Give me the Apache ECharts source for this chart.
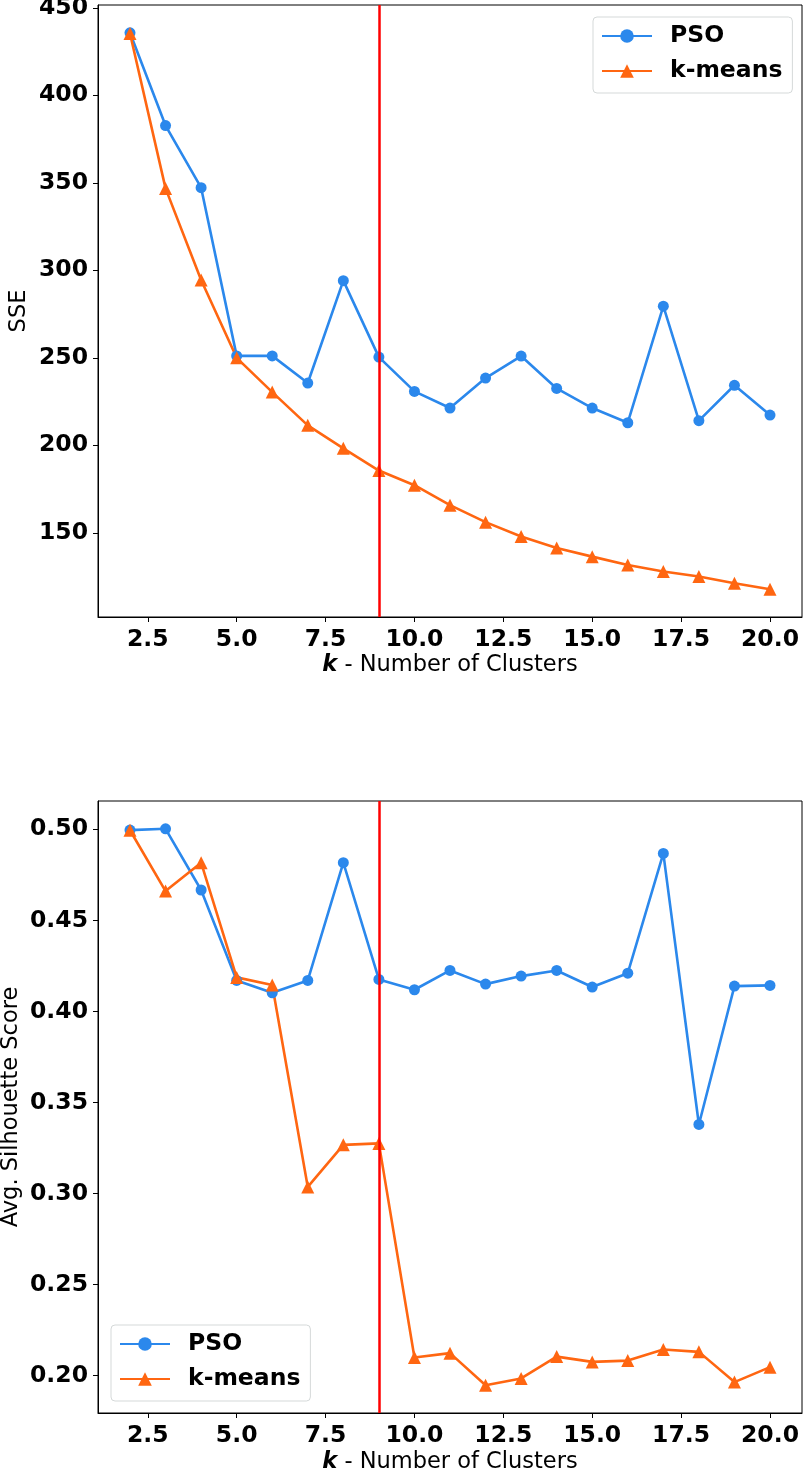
<!DOCTYPE html>
<html><head><meta charset="utf-8">
<script src="https://cdn.jsdelivr.net/npm/echarts@6/dist/echarts.min.js"></script>
<style>html,body{margin:0;padding:0;background:#fff}#c{width:804px;height:1471px}</style>
</head><body><div id="c"></div>
<script>
const kValues = [2,3,4,5,6,7,8,9,10,11,12,13,14,15,16,17,18,19,20];
const ssePSO = [435.7,382.7,347.2,251.1,251.1,235.6,294.1,250.4,230.8,221.3,238.4,251.0,232.5,221.3,212.9,279.5,214.1,234.3,217.3];
const sseKmeans = [435.3,346.8,294.5,250.0,230.4,211.4,198.3,185.6,177.2,165.8,156.1,147.9,141.3,136.4,131.6,127.9,125.0,121.2,117.8];
const silPSO = [0.4996,0.5003,0.4667,0.4170,0.4102,0.4170,0.4817,0.4176,0.4119,0.4225,0.4150,0.4194,0.4225,0.4134,0.4210,0.4868,0.3379,0.4139,0.4143];
const silKmeans = [0.4995,0.4661,0.4817,0.4187,0.4145,0.3036,0.3267,0.3275,0.2099,0.2123,0.1947,0.1984,0.2104,0.2075,0.2082,0.2143,0.2130,0.1964,0.2046];
const xTicks = [2.5,5,7.5,10,12.5,15,17.5,20];
const sseTicks = [150,200,250,300,350,400,450];
const silTicks = [0.20,0.25,0.30,0.35,0.40,0.45,0.50];
const seriesNames = ['PSO','k-means'];
const optimalK = 9;

const BLUE = '#2b88ec', ORANGE = '#ff6611', FONT = 'DejaVu Sans';
const TICK_FS = 23.5, NAME_FS = 22.5;

function pad(arrs){
  const all = [].concat(...arrs);
  const mn = Math.min(...all), mx = Math.max(...all), r = mx - mn;
  return [mn - 0.05*r, mx + 0.05*r];
}
const xr = pad([kValues]);
const sseR = pad([ssePSO, sseKmeans]);
const silR = pad([silPSO, silKmeans]);

function xAxis(gi, gap){
  return {
    gridIndex: gi, type:'value', min: xr[0], max: xr[1],
    name:'{b|k} - Number of Clusters', nameLocation:'middle', nameGap: gap, nameMoveOverlap:false,
    nameTextStyle:{fontFamily:FONT, fontSize:NAME_FS, color:'#000', rich:{b:{fontFamily:FONT, fontSize:NAME_FS, fontWeight:'bold', fontStyle:'italic', color:'#000'}}},
    splitLine:{show:false},
    axisLine:{show:true, lineStyle:{color:'#000', width:1}},
    axisTick:{show:true, length:5, customValues: xTicks, lineStyle:{color:'#000'}},
    axisLabel:{customValues: xTicks, formatter: v=>Number(v).toFixed(1), fontFamily:FONT, fontSize:TICK_FS, fontWeight:'bold', color:'#000', margin:11}
  };
}
function yAxis(gi, r, ticks, name, gap, dec){
  return {
    gridIndex: gi, type:'value', min:r[0], max:r[1],
    name, nameLocation:'middle', nameGap: gap, nameMoveOverlap:false,
    nameTextStyle:{fontFamily:FONT, fontSize:NAME_FS, color:'#000'},
    splitLine:{show:false},
    axisLine:{show:true, lineStyle:{color:'#000', width:1}},
    axisTick:{show:true, length:5, customValues: ticks, lineStyle:{color:'#000'}},
    axisLabel:{customValues: ticks, formatter: v=>Number(v).toFixed(dec), fontFamily:FONT, fontSize:TICK_FS, fontWeight:'bold', color:'#000', margin:10}
  };
}
function line(name, gi, ys, color, symbol, size){
  return {
    name, type:'line', xAxisIndex:gi, yAxisIndex:gi,
    data: kValues.map((k,i)=>[k, ys[i]]),
    symbol, symbolSize:size, showSymbol:true,
    lineStyle:{color, width:2.6}, itemStyle:{color}, z:3
  };
}
function vline(gi){
  return {
    name:'opt', type:'line', xAxisIndex:gi, yAxisIndex:gi, data:[], z:5,
    markLine:{silent:true, symbol:'none', label:{show:false}, animation:false,
      lineStyle:{color:'#ff0000', width:2.5, type:'solid'}, data:[{xAxis: optimalK}]}
  };
}
function legend(left, top){
  return {
    data: seriesNames, orient:'vertical', left, top,
    backgroundColor:'#fff', borderColor:'#d5d9d9', borderWidth:1, borderRadius:4,
    padding:[7,10,10,8], itemGap:11, itemWidth:50, itemHeight:17,
    textStyle:{fontFamily:FONT, fontSize:TICK_FS, fontWeight:'bold', color:'#000', padding:[0,0,0,13]}
  };
}

const chart = echarts.init(document.getElementById('c'), null, {renderer:'canvas'});
chart.setOption({
  animation:false,
  backgroundColor:'#fff',
  grid:[
    {left:98, top:5, width:704, height:612, show:true, borderColor:'#000', borderWidth:1, containLabel:false, outerBoundsMode:'none'},
    {left:98, top:801, width:704, height:612, show:true, borderColor:'#000', borderWidth:1, containLabel:false, outerBoundsMode:'none'}
  ],
  legend:[legend(593, 17), legend(111, 1325)],
  xAxis:[xAxis(0, 37), xAxis(1, 38)],
  yAxis:[yAxis(0, sseR, sseTicks, 'SSE', 67, 0), yAxis(1, silR, silTicks, 'Avg. Silhouette Score', 75, 2)],
  series:[
    line('PSO',0,ssePSO,BLUE,'circle',11),
    line('k-means',0,sseKmeans,ORANGE,'triangle',13),
    vline(0),
    line('PSO',1,silPSO,BLUE,'circle',11),
    line('k-means',1,silKmeans,ORANGE,'triangle',13),
    vline(1)
  ]
});
</script></body></html>
